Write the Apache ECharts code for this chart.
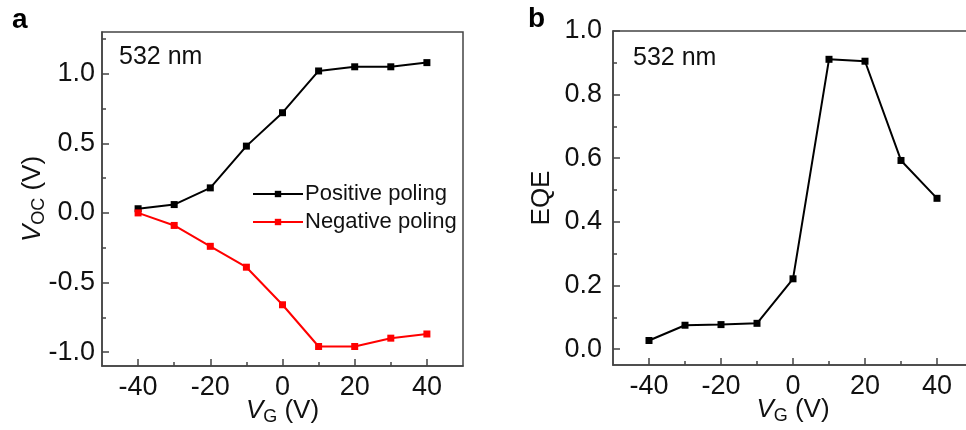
<!DOCTYPE html>
<html>
<head>
<meta charset="utf-8">
<script src="https://cdn.jsdelivr.net/npm/echarts@6/dist/echarts.min.js"></script>
<style>
html,body{margin:0;padding:0;background:#fff;}
#c{width:966px;height:430px;}
</style>
</head>
<body>
<div id="c"></div>
<script>
// ---- data ----
const vg = [-40, -30, -20, -10, 0, 10, 20, 30, 40];
const vocPositive = [0.03, 0.06, 0.18, 0.48, 0.72, 1.02, 1.05, 1.05, 1.08];
const vocNegative = [0.00, -0.09, -0.24, -0.39, -0.66, -0.96, -0.96, -0.90, -0.87];
const eqe = [0.027, 0.075, 0.077, 0.081, 0.221, 0.911, 0.905, 0.593, 0.474];
const xMajorTicks = [-40, -20, 0, 20, 40];
const xMinorTicks = [-30, -10, 10, 30];
const yaMajorTicks = [-1.0, -0.5, 0.0, 0.5, 1.0];
const yaMinorTicks = [-0.75, -0.25, 0.25, 0.75, 1.25];
const ybMajorTicks = [0.0, 0.2, 0.4, 0.6, 0.8, 1.0];
const ybMinorTicks = [0.1, 0.3, 0.5, 0.7, 0.9];
const seriesNames = ['Positive poling', 'Negative poling'];

const FONT = '"Liberation Sans", Arial, sans-serif';
const AX = '#444';
const TXT = '#111';

function pairs(xs, ys) { return xs.map((x, i) => [x, ys[i]]); }

function majorAxis(grid, dim, min, max, ticks, fmt, margin, extra) {
  return Object.assign({
    type: 'value', gridIndex: grid, min: min, max: max,
    position: dim === 'x' ? 'bottom' : 'left',
    nameMoveOverlap: false,
    axisLine: { show: true, onZero: false, lineStyle: { color: AX, width: 1.5 } },
    axisTick: { show: true, inside: true, length: 7, customValues: ticks, lineStyle: { color: AX, width: 1.5 } },
    axisLabel: { show: true, customValues: ticks, formatter: fmt, fontFamily: FONT, fontSize: 27, color: TXT, margin: margin },
    splitLine: { show: false }
  }, extra || {});
}
function minorAxis(grid, dim, min, max, ticks) {
  return {
    type: 'value', gridIndex: grid, min: min, max: max,
    position: dim === 'x' ? 'bottom' : 'left',
    axisLine: { show: false, onZero: false },
    axisTick: { show: true, inside: true, length: 4, customValues: ticks, lineStyle: { color: AX, width: 1.5 } },
    axisLabel: { show: false },
    splitLine: { show: false }
  };
}

const nameStyle = {
  fontFamily: FONT, fontSize: 26, color: TXT,
  rich: {
    i: { fontFamily: FONT, fontSize: 26, fontStyle: 'italic', color: TXT },
    s: { fontFamily: FONT, fontSize: 18, color: TXT, padding: [12, 0, 0, 0] },
    n: { fontFamily: FONT, fontSize: 26, color: TXT }
  }
};

const chart = echarts.init(document.getElementById('c'), null, { renderer: 'canvas' });
chart.setOption({
  animation: false,
  backgroundColor: '#fff',
  grid: [
    { left: 102, top: 32, width: 361, height: 334, show: true, borderColor: AX, borderWidth: 1.5, containLabel: false, outerBoundsMode: 'none' },
    { left: 613, top: 31, width: 360, height: 334, show: true, borderColor: AX, borderWidth: 1.5, containLabel: false, outerBoundsMode: 'none' }
  ],
  xAxis: [
    majorAxis(0, 'x', -50, 50, xMajorTicks, v => String(v), 8, {
      name: '{i|V}{s|G}{n| (V)}', nameLocation: 'middle', nameGap: 30, nameTextStyle: nameStyle
    }),
    minorAxis(0, 'x', -50, 50, xMinorTicks),
    majorAxis(1, 'x', -50, 50, xMajorTicks, v => String(v), 8, {
      name: '{i|V}{s|G}{n| (V)}', nameLocation: 'middle', nameGap: 30, nameTextStyle: nameStyle
    }),
    minorAxis(1, 'x', -50, 50, xMinorTicks)
  ],
  yAxis: [
    majorAxis(0, 'y', -1.1, 1.3, yaMajorTicks, v => v.toFixed(1), 7, {
      name: '{i|V}{s|OC}{n| (V)}', nameLocation: 'middle', nameGap: 54, nameRotate: 90, nameTextStyle: nameStyle
    }),
    minorAxis(0, 'y', -1.1, 1.3, yaMinorTicks),
    majorAxis(1, 'y', -0.05, 1.0, ybMajorTicks, v => v.toFixed(1), 11, {
      name: 'EQE', nameLocation: 'middle', nameGap: 58, nameRotate: 90, nameTextStyle: nameStyle
    }),
    minorAxis(1, 'y', -0.05, 1.0, ybMinorTicks)
  ],
  legend: {
    show: true,
    data: seriesNames,
    orient: 'vertical',
    left: 247, top: 178,
    itemWidth: 50, itemHeight: 8, itemGap: 6,
    textStyle: { fontFamily: FONT, fontSize: 22, color: TXT, padding: [0, 0, 0, -3] }
  },
  graphic: [
    { type: 'text', left: 12, top: 6, style: { text: 'a', font: 'bold 28px ' + FONT, fill: '#000' } },
    { type: 'text', left: 528, top: 5, style: { text: 'b', font: 'bold 28px ' + FONT, fill: '#000' } },
    { type: 'text', left: 119, top: 45, style: { text: '532 nm', font: '25px ' + FONT, fill: TXT } },
    { type: 'text', left: 633, top: 46, style: { text: '532 nm', font: '25px ' + FONT, fill: TXT } }
  ],
  series: [
    { name: seriesNames[0], type: 'line', xAxisIndex: 0, yAxisIndex: 0, data: pairs(vg, vocPositive),
      symbol: 'rect', symbolSize: 7, showSymbol: true,
      lineStyle: { color: '#000', width: 2 }, itemStyle: { color: '#000' } },
    { name: seriesNames[1], type: 'line', xAxisIndex: 0, yAxisIndex: 0, data: pairs(vg, vocNegative),
      symbol: 'rect', symbolSize: 7, showSymbol: true,
      lineStyle: { color: '#ff0000', width: 2 }, itemStyle: { color: '#ff0000' } },
    { name: 'EQE', type: 'line', xAxisIndex: 2, yAxisIndex: 2, data: pairs(vg, eqe),
      symbol: 'rect', symbolSize: 7, showSymbol: true,
      lineStyle: { color: '#000', width: 2 }, itemStyle: { color: '#000' } }
  ]
});
</script>
</body>
</html>
